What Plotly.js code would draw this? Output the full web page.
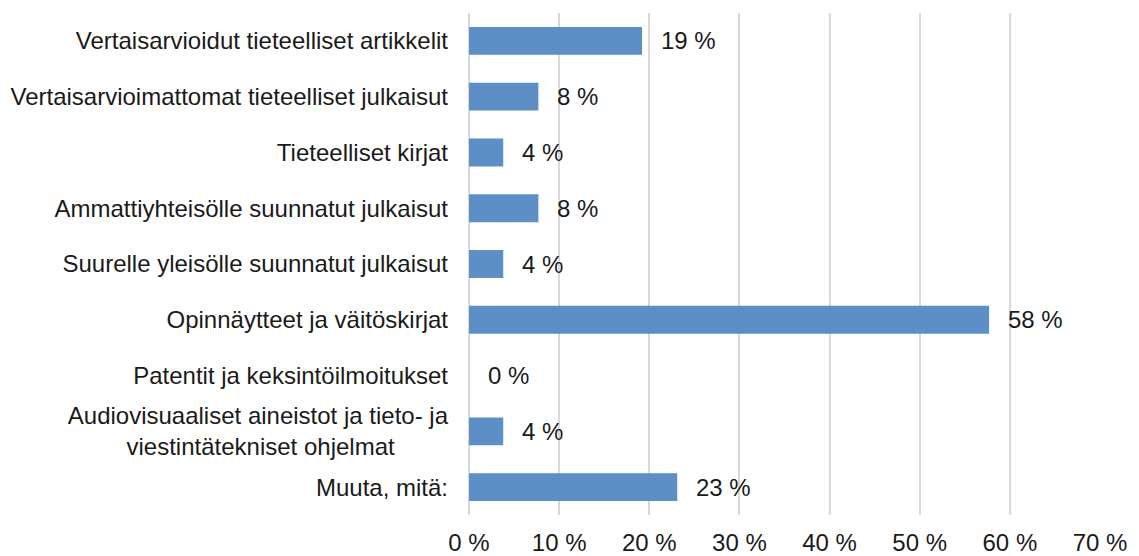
<!DOCTYPE html>
<html>
<head>
<meta charset="utf-8">
<script src="https://cdn.plot.ly/plotly-3.0.1.min.js"></script>
<style>html,body{margin:0;padding:0;background:#fff;}#chart{width:1139px;height:556px;}</style>
</head>
<body>
<div id="chart"></div>
<script>
const categories = [
  "Vertaisarvioidut tieteelliset artikkelit",
  "Vertaisarvioimattomat tieteelliset julkaisut",
  "Tieteelliset kirjat",
  "Ammattiyhteisölle suunnatut julkaisut",
  "Suurelle yleisölle suunnatut julkaisut",
  "Opinnäytteet ja väitöskirjat",
  "Patentit ja keksintöilmoitukset",
  "Audiovisuaaliset aineistot ja tieto- ja<br>viestintätekniset ohjelmat\u00A0\u00A0\u00A0\u00A0\u00A0\u00A0\u00A0\u00A0",
  "Muuta, mitä:"
];
const values = [19.2, 7.7, 3.8, 7.7, 3.8, 57.7, 0, 3.8, 23.1];
const valueLabels = ["19 %", "8 %", "4 %", "8 %", "4 %", "58 %", "0 %", "4 %", "23 %"];
const tickVals = [0, 10, 20, 30, 40, 50, 60, 70];
const tickText = ["0 %", "10 %", "20 %", "30 %", "40 %", "50 %", "60 %", "70 %"];

const font = {family: "Liberation Sans, Arial, sans-serif", size: 24, color: "#1a1a1a"};

const annotations = categories.map((c, i) => ({
  x: values[i], y: c, xref: "x", yref: "y",
  text: valueLabels[i], showarrow: false,
  xanchor: "left", xshift: 17, font: font
}));

Plotly.newPlot("chart", [{
  type: "bar", orientation: "h",
  x: values, y: categories,
  marker: {color: "#5b8fc5"},
  hoverinfo: "none"
}], {
  width: 1139, height: 556,
  margin: {l: 469, r: 39, t: 13, b: 41},
  paper_bgcolor: "#fff", plot_bgcolor: "#fff",
  bargap: 0.5,
  showlegend: false,
  font: font,
  xaxis: {
    range: [0, 70], tickvals: tickVals, ticktext: tickText,
    showgrid: true, gridcolor: "#d9d9d9", gridwidth: 2,
    zeroline: true, zerolinecolor: "#d9d9d9", zerolinewidth: 2,
    showline: false, ticks: "", ticklabelstandoff: 11, tickfont: font, fixedrange: true
  },
  yaxis: {
    autorange: "reversed", showgrid: false, zeroline: false, showline: false,
    ticks: "", ticklabelstandoff: 20, tickfont: font, fixedrange: true
  },
  annotations: annotations
}, {displayModeBar: false, staticPlot: true});
</script>
</body>
</html>
